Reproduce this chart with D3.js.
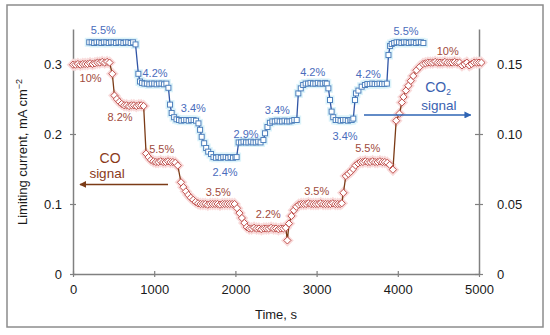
<!DOCTYPE html>
<html>
<head>
<meta charset="utf-8">
<script src="https://cdn.jsdelivr.net/npm/d3@7"></script>
<style>
  body { margin: 0; background: #fff; }
  text { font-family: "Liberation Sans", Arial, sans-serif; }
</style>
</head>
<body>
<div id="chart"></div>
<script>
var width = 550;
var height = 335;

// [time s, limiting current mA cm-2]
var coSeries = [
  [0,0.299],[30,0.299],[60,0.300],[90,0.299],[120,0.300],[150,0.300],[180,0.300],[210,0.301],
  [240,0.300],[270,0.301],[300,0.302],[330,0.302],[360,0.303],[390,0.302],[420,0.303],[450,0.302],
  [484,0.286],[510,0.255],[540,0.250],[570,0.246],[600,0.243],[630,0.241],[660,0.241],[690,0.240],
  [720,0.241],[750,0.241],[780,0.240],[810,0.241],[840,0.241],[870,0.240],
  [900,0.172],[930,0.167],[960,0.163],[990,0.161],[1020,0.160],[1050,0.160],[1080,0.161],[1110,0.160],
  [1140,0.160],[1170,0.161],[1200,0.160],[1230,0.160],[1260,0.159],[1290,0.155],
  [1330,0.131],[1360,0.124],[1390,0.118],[1420,0.113],[1450,0.109],[1480,0.106],[1510,0.103],[1540,0.101],
  [1570,0.100],[1600,0.100],[1630,0.100],[1660,0.099],[1690,0.100],[1720,0.100],[1750,0.100],[1780,0.100],
  [1810,0.099],[1840,0.100],[1870,0.100],[1900,0.100],[1930,0.100],[1960,0.100],[1990,0.100],
  [2020,0.094],[2050,0.087],[2080,0.080],[2110,0.073],[2140,0.067],
  [2170,0.065],[2200,0.065],[2230,0.066],[2260,0.065],[2290,0.065],[2320,0.064],[2350,0.065],[2380,0.065],
  [2410,0.065],[2440,0.066],[2470,0.065],[2500,0.065],[2530,0.064],[2560,0.065],[2590,0.065],[2620,0.066],
  [2640,0.048],[2660,0.072],[2690,0.083],[2720,0.091],[2750,0.096],[2780,0.099],
  [2810,0.100],[2840,0.100],[2870,0.100],[2900,0.101],[2930,0.100],[2960,0.100],[2990,0.100],[3020,0.100],
  [3050,0.101],[3080,0.100],[3110,0.100],[3140,0.100],[3170,0.100],[3200,0.101],[3230,0.100],[3260,0.100],
  [3290,0.100],[3310,0.101],
  [3330,0.116],[3360,0.140],[3390,0.143],[3420,0.146],[3450,0.150],[3480,0.155],[3510,0.158],[3540,0.160],
  [3570,0.160],[3600,0.161],[3630,0.160],[3660,0.160],[3690,0.161],[3720,0.160],[3750,0.160],[3780,0.161],
  [3810,0.160],[3840,0.160],[3870,0.159],[3900,0.156],[3940,0.149],
  [3980,0.219],[4020,0.229],[4050,0.245],[4070,0.253],[4100,0.262],[4130,0.269],[4160,0.276],[4190,0.283],
  [4230,0.291],[4270,0.296],[4310,0.300],[4340,0.301],[4370,0.302],[4400,0.302],[4430,0.302],[4460,0.303],
  [4490,0.302],[4520,0.302],[4550,0.302],[4580,0.303],[4610,0.302],[4640,0.302],[4670,0.302],[4700,0.303],
  [4730,0.302],[4760,0.302],[4790,0.298],[4820,0.300],[4850,0.302],[4880,0.298],[4910,0.300],[4940,0.302],
  [4970,0.302],[5000,0.302],[5030,0.302]
];

// [time s, CO2 signal] on the right axis
var co2Series = [
  [200,0.1655],[230,0.1655],[260,0.1650],[290,0.1655],[320,0.1655],[350,0.1650],[380,0.1655],[410,0.1655],
  [440,0.1650],[470,0.1655],[500,0.1655],[530,0.1650],[560,0.1655],[590,0.1655],[620,0.1650],[650,0.1655],
  [680,0.1655],[710,0.1650],[740,0.1655],[770,0.1640],
  [805,0.1430],[825,0.1375],[850,0.1365],[880,0.1360],[910,0.1360],[940,0.1355],[970,0.1360],[1000,0.1360],
  [1030,0.1355],[1060,0.1360],[1090,0.1360],[1120,0.1355],[1150,0.1360],[1175,0.1330],
  [1195,0.1210],[1215,0.1150],[1245,0.1120],[1275,0.1105],[1305,0.1100],[1335,0.1095],[1365,0.1100],
  [1395,0.1100],[1425,0.1095],[1455,0.1100],[1485,0.1100],[1515,0.1095],
  [1545,0.1076],[1565,0.1030],[1585,0.0980],[1615,0.0934],[1640,0.0900],[1665,0.0874],[1700,0.0857],
  [1730,0.0835],[1760,0.0830],[1790,0.0835],[1820,0.0830],[1850,0.0835],[1880,0.0835],[1910,0.0830],
  [1940,0.0835],[1970,0.0830],[2000,0.0835],[2015,0.0835],
  [2040,0.0940],[2070,0.0940],[2100,0.0945],[2130,0.0940],[2160,0.0940],[2190,0.0945],[2220,0.0940],
  [2250,0.0940],[2280,0.0945],[2310,0.0940],
  [2345,0.0957],[2365,0.1005],[2395,0.1050],[2425,0.1080],[2455,0.1090],[2485,0.1090],[2515,0.1095],
  [2545,0.1090],[2575,0.1090],[2605,0.1095],[2635,0.1090],[2665,0.1090],[2695,0.1095],[2725,0.1100],[2755,0.1100],
  [2775,0.1290],[2805,0.1326],[2835,0.1350],[2865,0.1360],[2895,0.1360],[2925,0.1365],[2955,0.1360],
  [2985,0.1360],[3015,0.1365],[3045,0.1360],[3075,0.1360],[3105,0.1365],[3125,0.1360],
  [3145,0.1326],[3165,0.1243],[3185,0.1160],[3205,0.1120],[3235,0.1100],[3265,0.1100],[3295,0.1095],
  [3325,0.1100],[3355,0.1100],[3385,0.1095],[3415,0.1100],[3432,0.1100],
  [3452,0.1110],[3473,0.1243],[3485,0.1290],[3515,0.1310],[3555,0.1338],[3595,0.1350],[3625,0.1357],
  [3655,0.1357],[3685,0.1360],[3715,0.1357],[3745,0.1357],[3775,0.1360],[3805,0.1357],[3835,0.1357],[3865,0.1360],
  [3885,0.1564],[3905,0.1629],[3925,0.1643],[3955,0.1650],[3985,0.1655],[4015,0.1655],[4045,0.1650],
  [4075,0.1655],[4105,0.1655],[4135,0.1650],[4165,0.1655],[4195,0.1655],[4225,0.1650],[4255,0.1655],
  [4285,0.1655],[4315,0.1650]
];

// step concentrations written on the curves: [text, time, value]
var coLabels = [
  ["10%",217,0.280],["8.2%",579,0.224],["5.5%",1092,0.179],["3.5%",1789,0.1164],
  ["2.2%",2405,0.085],["3.5%",3001,0.1187],["5.5%",3629,0.180],["10%",4614,0.319]
];
var co2Labels = [
  ["5.5%",373,0.1745],["4.2%",1010,0.1438],["3.4%",1482,0.1184],["2.4%",1872,0.0731],
  ["2.9%",2131,0.100],["3.4%",2516,0.1171],["4.2%",2952,0.1445],["3.4%",3350,0.0986],
  ["4.2%",3637,0.1425],["5.5%",4101,0.1738]
];

var xTicks = [0, 1000, 2000, 3000, 4000, 5000];
var leftTicks = [0, 0.1, 0.2, 0.3];
var rightTicks = [0, 0.05, 0.10, 0.15];

var coLine = "#7b3b16", coMark = "#c0504d", coText = "#a04a3c";
var co2Line = "#3155a6", co2Mark = "#4f81bd", co2Text = "#4a6cbc";
var axisColor = "#808080";

var x = d3.scaleLinear().domain([0, 5000]).range([73, 479]);
var yL = d3.scaleLinear().domain([0, 0.35]).range([274, 29]);
var yR = d3.scaleLinear().domain([0, 0.175]).range([274, 29]);

var svg = d3.select("#chart").append("svg")
  .attr("width", width)
  .attr("height", height);

// outer frame
svg.append("rect")
  .attr("x", 7).attr("y", 5)
  .attr("width", 536).attr("height", 322)
  .attr("fill", "none")
  .attr("stroke", "#8c8c8c")
  .attr("stroke-width", 1.5);

var defs = svg.append("defs");
function arrowHead(id, color) {
  defs.append("marker")
    .attr("id", id)
    .attr("viewBox", "0 0 10 10")
    .attr("refX", 9).attr("refY", 5)
    .attr("markerWidth", 7).attr("markerHeight", 7)
    .attr("markerUnits", "userSpaceOnUse")
    .attr("orient", "auto")
    .append("path")
    .attr("d", "M0,0L10,5L0,10Z")
    .attr("fill", color);
}
arrowHead("headCO", coLine);
arrowHead("headCO2", "#2e64b4");

// axes
function styleAxis(g) {
  g.select(".domain").attr("stroke", axisColor).attr("stroke-width", 1.5);
  g.selectAll(".tick line").attr("stroke", axisColor).attr("stroke-width", 1.2);
  g.selectAll(".tick text").attr("fill", "#1a1a1a").style("font-size", "13px");
}

var gx = svg.append("g")
  .attr("transform", "translate(0,274)")
  .call(d3.axisBottom(x).tickValues(xTicks).tickSize(3).tickSizeOuter(0).tickPadding(8).tickFormat(d3.format("d")));
gx.selectAll(".tick line").attr("y1", -3);
styleAxis(gx);

var gl = svg.append("g")
  .attr("transform", "translate(73,0)")
  .call(d3.axisLeft(yL).tickValues(leftTicks).tickSize(3).tickSizeOuter(0).tickPadding(8)
    .tickFormat(function(d) { return d === 0 ? "0" : d3.format(".1f")(d); }));
gl.selectAll(".tick line").attr("x1", 3);
styleAxis(gl);

var gr = svg.append("g")
  .attr("transform", "translate(479,0)")
  .call(d3.axisRight(yR).tickValues(rightTicks).tickSize(4).tickSizeOuter(0).tickPadding(14)
    .tickFormat(function(d) { return d === 0 ? "0" : d3.format(".2f")(d); }));
gr.selectAll(".tick line").attr("x1", -4);
styleAxis(gr);

// axis titles
svg.append("text")
  .attr("x", 276).attr("y", 319)
  .attr("text-anchor", "middle")
  .style("font-size", "13px")
  .attr("fill", "#1a1a1a")
  .text("Time, s");

var yTitle = svg.append("text")
  .attr("transform", "translate(27,152) rotate(-90)")
  .attr("text-anchor", "middle")
  .style("font-size", "13px")
  .attr("fill", "#1a1a1a");
yTitle.append("tspan").text("Limiting current, mA cm");
yTitle.append("tspan").attr("dy", -5).style("font-size", "9px").text("\u22122");

// series
var lineCO = d3.line().x(function(d) { return x(d[0]); }).y(function(d) { return yL(d[1]); });
var lineCO2 = d3.line().x(function(d) { return x(d[0]); }).y(function(d) { return yR(d[1]); });

var diamond = "M0,-3.6L3.6,0L0,3.6L-3.6,0Z";

// soft halo round the markers, as in the picture
svg.append("g").selectAll("path")
  .data(coSeries).enter().append("path")
  .attr("d", diamond)
  .attr("transform", function(d) { return "translate(" + x(d[0]) + "," + yL(d[1]) + ")"; })
  .attr("fill", "none").attr("stroke", "#f9dcdc").attr("stroke-width", 4);
svg.append("g").selectAll("rect")
  .data(co2Series).enter().append("rect")
  .attr("x", function(d) { return x(d[0]) - 2.5; })
  .attr("y", function(d) { return yR(d[1]) - 2.5; })
  .attr("width", 5).attr("height", 5)
  .attr("fill", "none").attr("stroke", "#dcf3fa").attr("stroke-width", 4);

svg.append("path")
  .datum(coSeries)
  .attr("d", lineCO)
  .attr("fill", "none").attr("stroke", coLine).attr("stroke-width", 1.3);
svg.append("g").selectAll("path")
  .data(coSeries).enter().append("path")
  .attr("d", diamond)
  .attr("transform", function(d) { return "translate(" + x(d[0]) + "," + yL(d[1]) + ")"; })
  .attr("fill", "#fff").attr("stroke", coMark).attr("stroke-width", 1);

svg.append("path")
  .datum(co2Series)
  .attr("d", lineCO2)
  .attr("fill", "none").attr("stroke", co2Line).attr("stroke-width", 1.3);
svg.append("g").selectAll("rect")
  .data(co2Series).enter().append("rect")
  .attr("x", function(d) { return x(d[0]) - 2.5; })
  .attr("y", function(d) { return yR(d[1]) - 2.5; })
  .attr("width", 5).attr("height", 5)
  .attr("fill", "#fff").attr("stroke", co2Mark).attr("stroke-width", 1);

// concentration labels
svg.append("g").selectAll("text")
  .data(coLabels).enter().append("text")
  .attr("x", function(d) { return x(d[1]); })
  .attr("y", function(d) { return yL(d[2]); })
  .attr("dy", "0.35em")
  .attr("text-anchor", "middle")
  .style("font-size", "11px")
  .attr("fill", coText)
  .text(function(d) { return d[0]; });
svg.append("g").selectAll("text")
  .data(co2Labels).enter().append("text")
  .attr("x", function(d) { return x(d[1]); })
  .attr("y", function(d) { return yR(d[2]); })
  .attr("dy", "0.35em")
  .attr("text-anchor", "middle")
  .style("font-size", "11px")
  .attr("fill", co2Text)
  .text(function(d) { return d[0]; });

// CO signal arrow (points to left axis)
svg.append("line")
  .attr("x1", x(1170)).attr("x2", x(86))
  .attr("y1", yL(0.128)).attr("y2", yL(0.128))
  .attr("stroke", coLine).attr("stroke-width", 1.5)
  .attr("marker-end", "url(#headCO)");
svg.append("text")
  .attr("x", x(456)).attr("y", yL(0.165)).attr("dy", "0.35em")
  .attr("text-anchor", "middle").style("font-size", "14px")
  .attr("fill", "#8b3a1a").text("CO");
svg.append("text")
  .attr("x", x(419)).attr("y", yL(0.144)).attr("dy", "0.35em")
  .attr("text-anchor", "middle").style("font-size", "13.5px")
  .attr("fill", "#8b3a1a").text("signal");

// CO2 signal arrow (points to right axis)
svg.append("line")
  .attr("x1", x(3584)).attr("x2", x(4898))
  .attr("y1", yR(0.1136)).attr("y2", yR(0.1136))
  .attr("stroke", "#2e64b4").attr("stroke-width", 1.5)
  .attr("marker-end", "url(#headCO2)");
var co2Title = svg.append("text")
  .attr("x", x(4495)).attr("y", yR(0.1335)).attr("dy", "0.35em")
  .attr("text-anchor", "middle").style("font-size", "14px")
  .attr("fill", "#3a62b0");
co2Title.append("tspan").text("CO");
co2Title.append("tspan").attr("dy", 2.5).style("font-size", "8.5px").text("2");
svg.append("text")
  .attr("x", x(4507)).attr("y", yR(0.1205)).attr("dy", "0.35em")
  .attr("text-anchor", "middle").style("font-size", "13.5px")
  .attr("fill", "#3a62b0").text("signal");
</script>
</body>
</html>
